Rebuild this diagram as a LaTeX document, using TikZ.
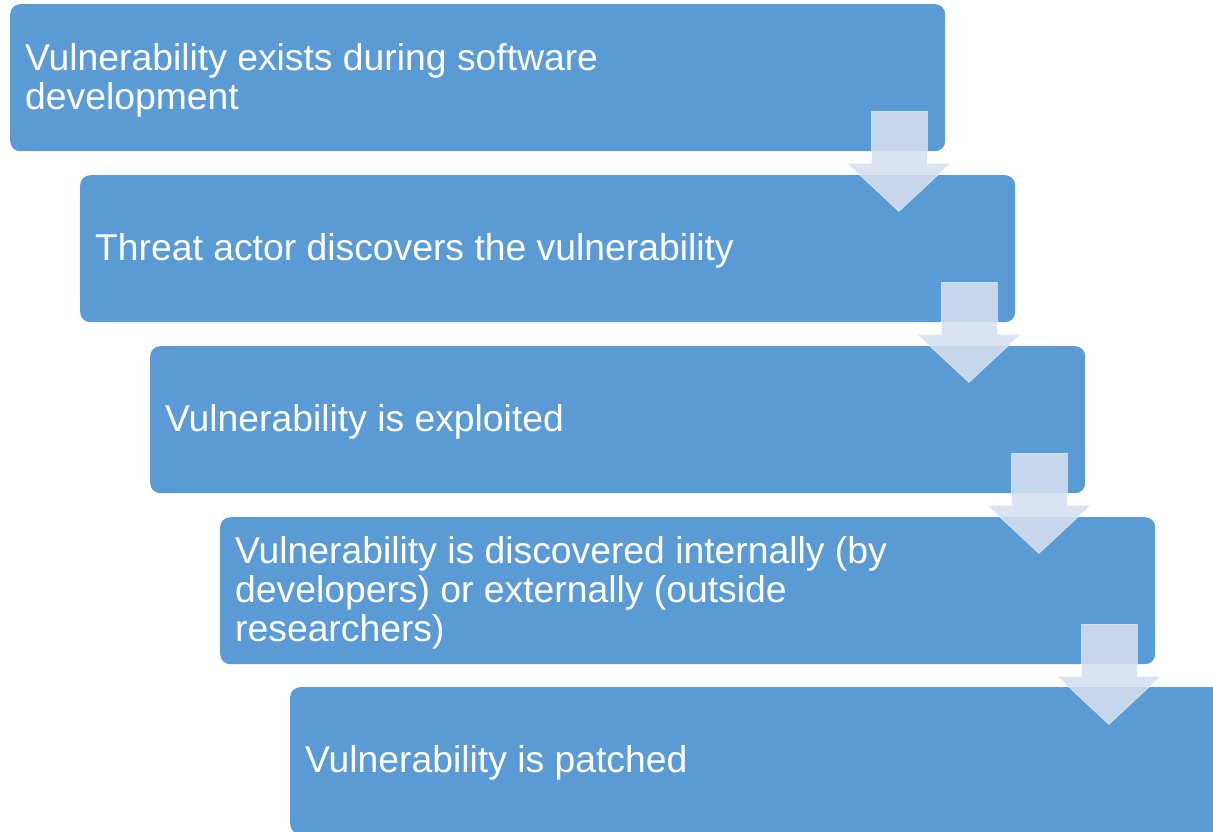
\documentclass[tikz,border=0pt]{standalone}
\usepackage{fontspec}
\setmainfont{Liberation Sans}
\usetikzlibrary{calc}
\definecolor{boxblue}{RGB}{91,155,213}
\definecolor{arrowc}{RGB}{213,224,240}
\tikzset{
  stepbox/.style={fill=boxblue, draw=none, rounded corners=10pt,
    minimum width=935pt, minimum height=147pt, inner sep=0pt, anchor=north west},
  steptext/.style={text=white, align=left, inner sep=0pt, anchor=west,
    font=\fontsize{37.3}{39}\selectfont},
  downarrow/.style={fill=arrowc, fill opacity=0.88, draw=white, draw opacity=0.5, line width=0.8pt}
}
\begin{document}
\begin{tikzpicture}[x=1pt,y=-1pt]
\useasboundingbox (0,0) rectangle (1213,831);
\clip (0,0) rectangle (1213,831);
\fill[white] (0,0) rectangle (1213,831);
\node[stepbox] (b1) at (10,4) {};
\node[stepbox] (b2) at (80,175) {};
\node[stepbox] (b3) at (150,346) {};
\node[stepbox] (b4) at (220,517) {};
\node[stepbox] (b5) at (290,687) {};
\node[steptext] (t1) at ($(b1.west)+(15,2.5)$) {Vulnerability exists during software\\development};
\node[steptext] (t2) at ($(b2.west)+(15,2.5)$) {Threat actor discovers the vulnerability};
\node[steptext] (t3) at ($(b3.west)+(15,2.5)$) {Vulnerability is exploited};
\node[steptext] (t4) at ($(b4.west)+(15,2.5)$) {Vulnerability is discovered internally (by\\developers) or externally (outside\\researchers)};
\node[steptext] (t5) at ($(b5.west)+(15,2.5)$) {Vulnerability is patched};
\foreach \a in {b1,b2,b3,b4}{
  \path[downarrow] ($(\a.south east)+(-74,-40)$) -- ($(\a.south east)+(-18,-40)$)
    -- ($(\a.south east)+(-18,12)$) -- ($(\a.south east)+(5,12)$)
    -- ($(\a.south east)+(-46.5,60)$) -- ($(\a.south east)+(-98,12)$)
    -- ($(\a.south east)+(-74,12)$) -- cycle;
}
\end{tikzpicture}
\end{document}
